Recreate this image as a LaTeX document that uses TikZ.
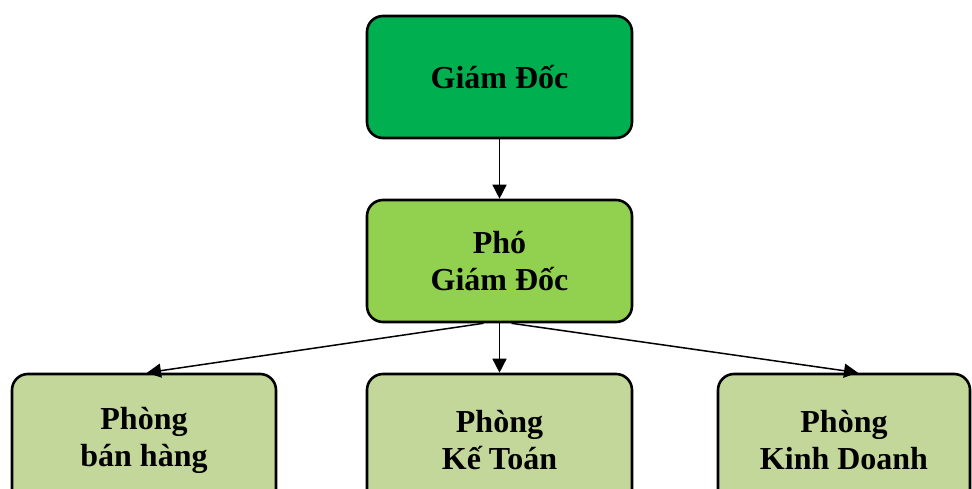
\documentclass[tikz,border=0pt]{standalone}
\usepackage{fontspec}
\setmainfont{Liberation Serif}
\usetikzlibrary{arrows.meta}
\definecolor{gTop}{HTML}{00B050}
\definecolor{gMid}{HTML}{92D050}
\definecolor{gLow}{HTML}{C4D79B}
\begin{document}
\begin{tikzpicture}[x=1pt,y=-1pt,
  orgbox/.style={draw=black, line width=2.6pt, rounded corners=16pt, minimum height=122pt,
    align=center, font=\fontsize{32}{37}\selectfont\bfseries, inner sep=0pt},
  arr/.style={line width=1.5pt, -{Triangle[length=14pt,width=14pt]}}]
\useasboundingbox (0,0) rectangle (972,489);
\node[orgbox, fill=gTop, minimum width=265pt] (gd) at (499.5,77) {Giám Đốc};
\node[orgbox, fill=gMid, minimum width=265pt] (pgd) at (499.5,261) {Phó\\Giám Đốc};
\node[orgbox, fill=gLow, minimum width=264pt, minimum height=132pt] (bh) at (144,440) {Phòng\\bán hàng};
\node[orgbox, fill=gLow, minimum width=265pt, minimum height=132pt] (kt) at (499.5,440) {Phòng\\Kế Toán};
\node[orgbox, fill=gLow, minimum width=252pt, minimum height=132pt] (kd) at (844,440) {Phòng\\Kinh Doanh};
\draw[arr] (gd.south) -- (pgd.north);
\draw[arr] (pgd.south) -- (kt.north);
\draw[arr] ([xshift=-16pt]pgd.south) -- ([xshift=3pt]bh.north);
\draw[arr] ([xshift=12pt]pgd.south) -- ([xshift=14pt]kd.north);
\end{tikzpicture}
\end{document}
